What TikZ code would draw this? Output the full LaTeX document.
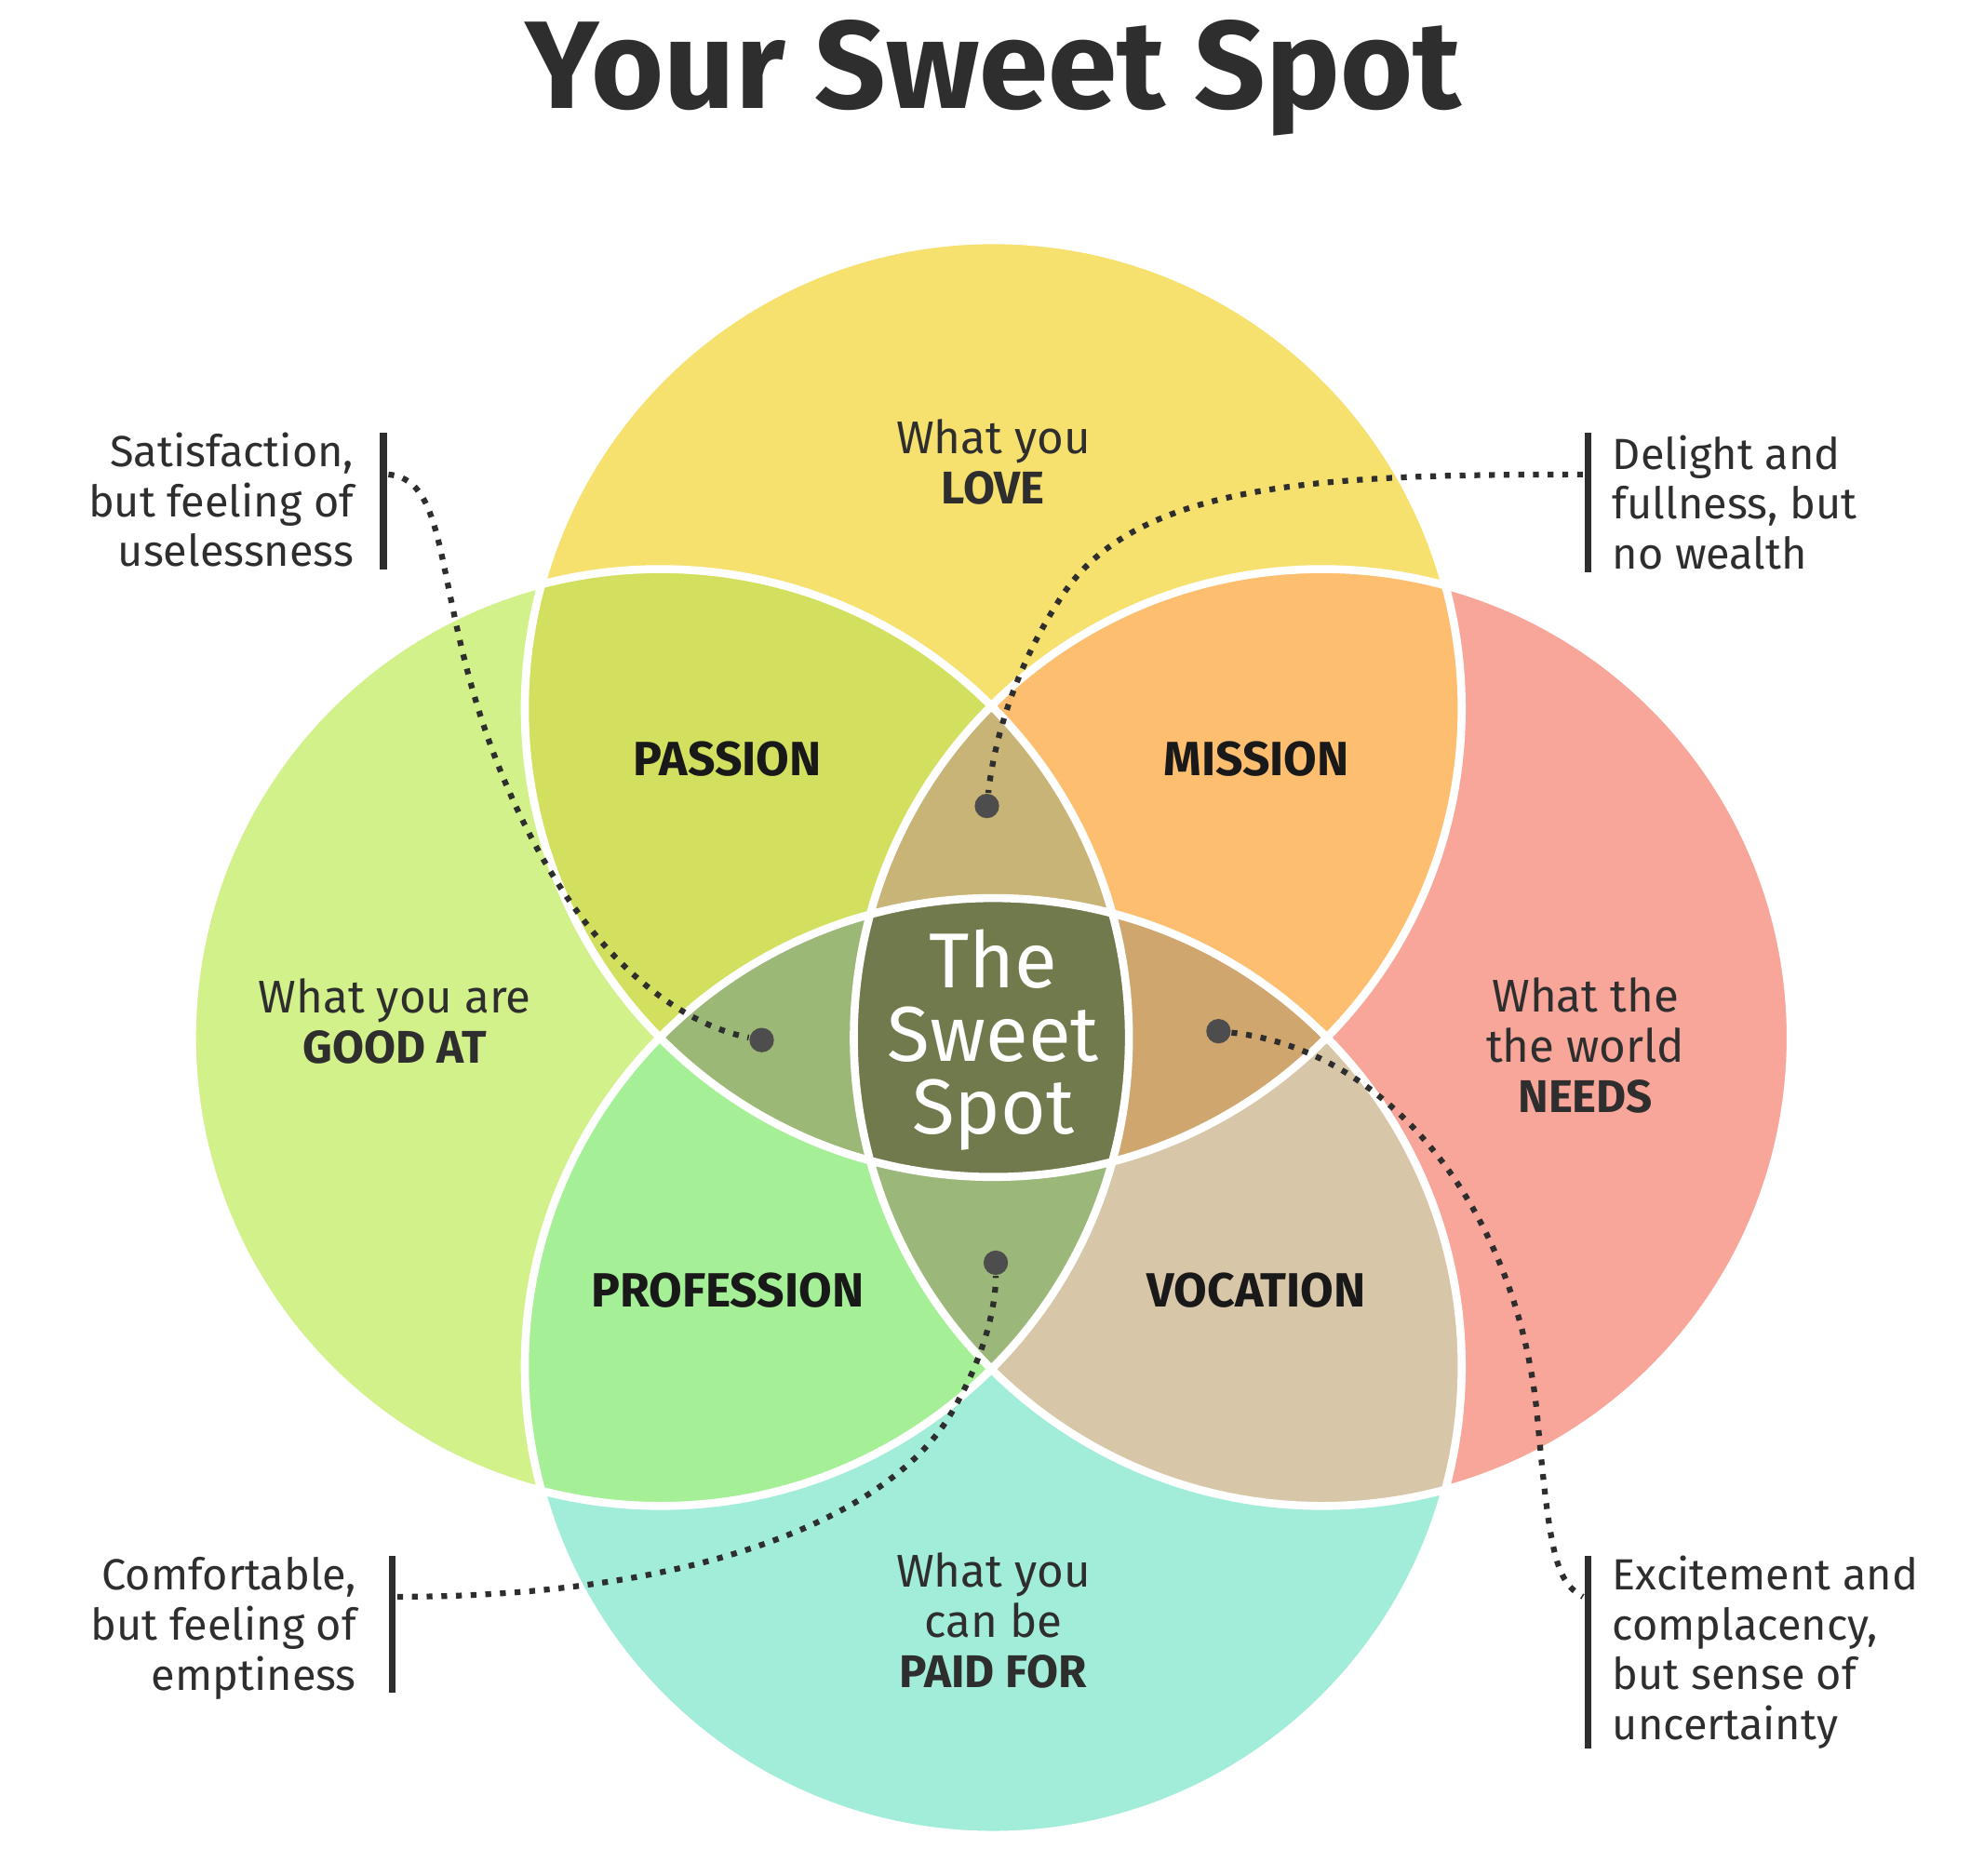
\documentclass[tikz,border=0pt]{standalone}
\usepackage{fontspec}
\setmainfont{Fira Sans}
\usepackage{xcolor}
\usetikzlibrary{positioning}

\definecolor{loveC}{HTML}{F6E06E}
\definecolor{goodC}{HTML}{D3F18A}
\definecolor{needC}{HTML}{F9A69A}
\definecolor{paidC}{HTML}{A1EDD9}
\definecolor{passC}{HTML}{D3E05F}
\definecolor{missC}{HTML}{FDBF6F}
\definecolor{profC}{HTML}{A5F096}
\definecolor{vocC}{HTML}{D7C7A8}
\definecolor{topL}{HTML}{C9B478}
\definecolor{leftL}{HTML}{9CB877}
\definecolor{rightL}{HTML}{D0A66F}
\definecolor{botL}{HTML}{9BB87A}
\definecolor{sweetC}{HTML}{707A4C}
\definecolor{ink}{HTML}{2E2E2E}

\def\cT{(785,560) circle (3.7cm)}
\def\cL{(522,820) circle (3.7cm)}
\def\cR{(1045,820) circle (3.7cm)}
\def\cB{(785,1080) circle (3.7cm)}

\tikzset{
  label/.style={align=center, text=ink, font=\fontsize{10.3}{11.3}\selectfont},
  region/.style={text=black!90, font=\fontsize{10.8}{12}\selectfont\bfseries},
  note/.style={text=ink, font=\fontsize{9.8}{11.2}\selectfont},
  bar/.style={ink, line width=1.6pt},
  dotline/.style={ink, line width=1.3pt, dotted},
  pin/.style={circle, fill=ink!85, inner sep=0pt, minimum size=5.5pt},
}

\begin{document}
\begin{tikzpicture}[x=0.01cm, y=-0.01cm]
\useasboundingbox (0,0) rectangle (1568,1482);

% base circles
\fill[loveC] \cT;
\fill[goodC] \cL;
\fill[needC] \cR;
\fill[paidC] \cB;

% pairwise
\begin{scope}\clip \cT; \fill[passC] \cL; \end{scope}
\begin{scope}\clip \cT; \fill[missC] \cR; \end{scope}
\begin{scope}\clip \cB; \fill[profC] \cL; \end{scope}
\begin{scope}\clip \cB; \fill[vocC] \cR; \end{scope}

% triples
\begin{scope}\clip \cT; \clip \cL; \fill[topL] \cR; \end{scope}
\begin{scope}\clip \cT; \clip \cL; \fill[leftL] \cB; \end{scope}
\begin{scope}\clip \cT; \clip \cR; \fill[rightL] \cB; \end{scope}
\begin{scope}\clip \cB; \clip \cL; \fill[botL] \cR; \end{scope}

% the sweet spot
\begin{scope}\clip \cT; \clip \cL; \clip \cR; \fill[sweetC] \cB; \end{scope}

% outlines
\draw[white, line width=1.8pt] \cT \cL \cR \cB;

% title
\node[text=ink, font=\fontsize{28}{32}\selectfont\bfseries] (title) at (785,62) {Your Sweet Spot};

% circle labels
\node[label] (love) at (785,365) {What you\\\textbf{LOVE}};
\node[label] (good) at (312,807) {What you are\\\textbf{GOOD AT}};
\node[label] (needs) at (1253,826) {What the\\the world\\\textbf{NEEDS}};
\node[label] (paid) at (785,1281) {What you\\can be\\\textbf{PAID FOR}};

\node[region] (passion) at (575,600) {PASSION};
\node[region] (mission) at (993,600) {MISSION};
\node[region] (profession) at (575,1020) {PROFESSION};
\node[region] (vocation) at (993,1020) {VOCATION};

\node[align=center, text=white, font=\fontsize{17.5}{16.5}\selectfont] (sweet) at (785,822) {The\\Sweet\\Spot};

% notes
\node[note, align=right, anchor=east] (useless) at (292,395) {Satisfaction,\\but feeling of\\uselessness};
\node[note, align=left, anchor=west] (wealth) at (1262,397) {Delight and\\fullness, but\\no wealth};
\node[note, align=right, anchor=east] (empty) at (294,1287) {Comfortable,\\but feeling of\\emptiness};
\node[note, align=left, anchor=west] (uncert) at (1262,1306) {Excitement and\\complacency,\\but sense of\\uncertainty};

\draw[bar] (303,342) -- (303,450);
\draw[bar] (1255,342) -- (1255,452);
\draw[bar] (310,1230) -- (310,1338);
\draw[bar] (1255,1230) -- (1255,1382);

\coordinate (uselessEnd) at (307,375);
\coordinate (wealthEnd) at (1251,375);
\coordinate (emptyEnd) at (314,1262);
\coordinate (uncertEnd) at (1251,1262);

% pins
\node[pin] (pinTop) at (780,637) {};
\node[pin] (pinLeft) at (602,822) {};
\node[pin] (pinRight) at (963,815) {};
\node[pin] (pinBot) at (787,998) {};

% dotted connectors
\draw[dotline] (uselessEnd) .. controls (360,380) and (340,480) .. (400,620)
  .. controls (460,760) and (540,810) .. (pinLeft);
\draw[dotline] (wealthEnd) .. controls (1050,375) and (900,380) .. (840,470)
  .. controls (800,530) and (785,590) .. (pinTop);
\draw[dotline] (emptyEnd) .. controls (550,1262) and (700,1200) .. (750,1120)
  .. controls (780,1070) and (787,1030) .. (pinBot);
\draw[dotline] (pinRight) .. controls (1100,830) and (1200,960) .. (1215,1120)
  .. controls (1225,1230) and (1230,1250) .. (uncertEnd);

\end{tikzpicture}
\end{document}
